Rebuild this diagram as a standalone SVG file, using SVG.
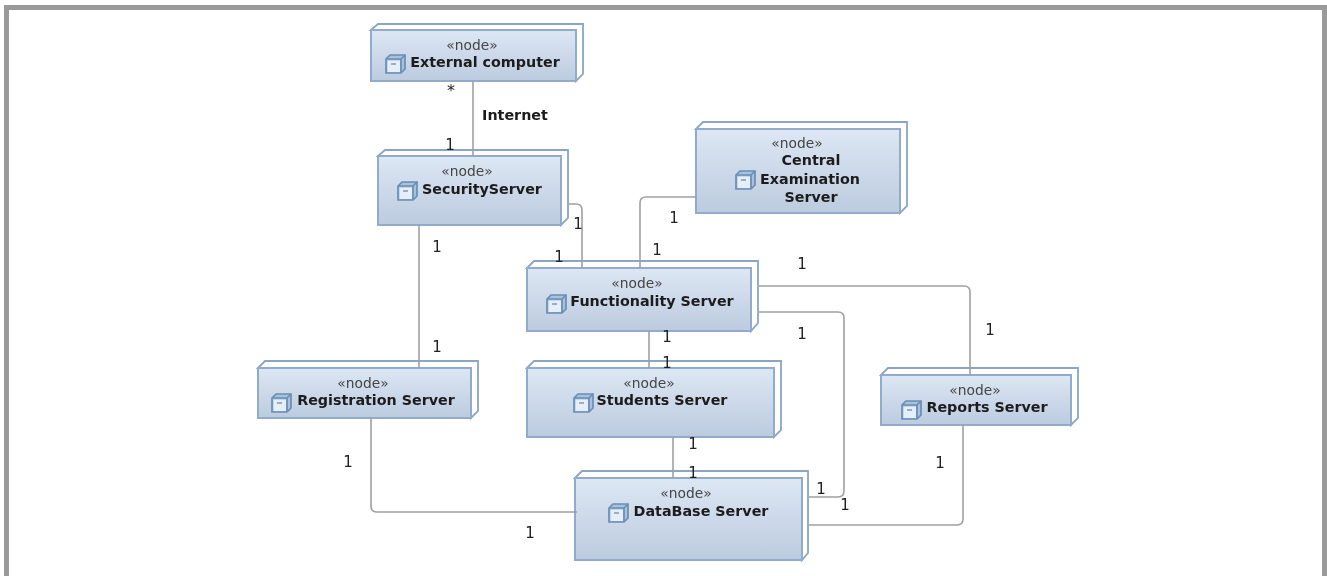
<svg xmlns="http://www.w3.org/2000/svg" width="1327" height="576" viewBox="0 0 1327 576">
<style>
.frame{fill:none;stroke:#9a9a9a;stroke-width:5}
.box{fill:url(#g);stroke:#92abcc;stroke-width:2}
.side{fill:#fff;stroke:#8aa5c8;stroke-width:1.8}
.st{font:13.8px "DejaVu Sans",sans-serif;fill:#444;text-anchor:middle;filter:url(#b)}
.nm{font:bold 14.3px "DejaVu Sans",sans-serif;fill:#1c1c1c;text-anchor:middle;filter:url(#b)}
.m{font:15px "DejaVu Sans",sans-serif;fill:#222;text-anchor:middle;filter:url(#b)}
.c{fill:none;stroke:#a0a0a0;stroke-width:1.6}
.ic{fill:#a9c1dc;stroke:#6a8db5;stroke-width:1.7}
</style>
<defs>
<filter id="b" x="-20%" y="-20%" width="140%" height="140%"><feGaussianBlur stdDeviation="0.3"/></filter>
<linearGradient id="g" x1="0" y1="0" x2="0" y2="1"><stop offset="0" stop-color="#dde7f4"/><stop offset="1" stop-color="#bccbdf"/></linearGradient>
<g id="icon"><path class="ic" d="M0 4L4 0H19V14L15 18H0Z"/><path class="ic" d="M0 4H15V18M15 4L19 0" fill="none"/><rect x="1.500" y="5.500" width="12.500" height="11.500" fill="#e6eef7"/><path d="M5 9H10" stroke="#6a8db5" stroke-width="1.3"/></g>
</defs>
<rect id="frame" class="frame" x="6.500" y="7.500" width="1318" height="575"/>
<g id="external-computer">
<path class="side" d="M371 30L378 24H583V74L576 81V30Z"/>
<rect class="box" x="371" y="30" width="205" height="51"/>
<text class="st" x="472" y="50">«node»</text>
<use href="#icon" x="386" y="55"/>
<text class="nm" x="485" y="67">External computer</text>
</g>
<g id="security-server">
<path class="side" d="M378 156L385 150H568V218L561 225V156Z"/>
<rect class="box" x="378" y="156" width="183" height="69"/>
<text class="st" x="467" y="176">«node»</text>
<use href="#icon" x="398" y="182"/>
<text class="nm" x="482" y="194">SecurityServer</text>
</g>
<g id="central-examination-server">
<path class="side" d="M696 129L703 122H907V206L900 213V129Z"/>
<rect class="box" x="696" y="129" width="204" height="84"/>
<text class="st" x="797" y="148">«node»</text>
<use href="#icon" x="736" y="171"/>
<text class="nm" x="811" y="165">Central</text>
<text class="nm" x="810" y="184">Examination</text>
<text class="nm" x="811" y="202">Server</text>
</g>
<g id="functionality-server">
<path class="side" d="M527 268L534 261H758V323L751 331V268Z"/>
<rect class="box" x="527" y="268" width="224" height="63"/>
<text class="st" x="637" y="288">«node»</text>
<use href="#icon" x="547" y="295"/>
<text class="nm" x="652" y="306">Functionality Server</text>
</g>
<g id="registration-server">
<path class="side" d="M258 368L265 361H478V411L471 418V368Z"/>
<rect class="box" x="258" y="368" width="213" height="50"/>
<text class="st" x="363" y="388">«node»</text>
<use href="#icon" x="272" y="394"/>
<text class="nm" x="376" y="405">Registration Server</text>
</g>
<g id="students-server">
<path class="side" d="M527 368L534 361H781V430L774 437V368Z"/>
<rect class="box" x="527" y="368" width="247" height="69"/>
<text class="st" x="649" y="388">«node»</text>
<use href="#icon" x="574" y="394"/>
<text class="nm" x="662" y="405">Students Server</text>
</g>
<g id="reports-server">
<path class="side" d="M881 375L888 368H1078V418L1071 425V375Z"/>
<rect class="box" x="881" y="375" width="190" height="50"/>
<text class="st" x="975" y="395">«node»</text>
<use href="#icon" x="902" y="401"/>
<text class="nm" x="987" y="412">Reports Server</text>
</g>
<g id="database-server">
<path class="side" d="M575 478L582 471H808V553L802 560V478Z"/>
<rect class="box" x="575" y="478" width="227" height="82"/>
<text class="st" x="686" y="498">«node»</text>
<use href="#icon" x="609" y="504"/>
<text class="nm" x="701" y="516">DataBase Server</text>
</g>
<g id="connectors">
<path class="c" d="M473 81V156"/>
<path class="c" d="M569 204H576Q582 204 582 210V268"/>
<path class="c" d="M419 225V368"/>
<path class="c" d="M696 197H646Q640 197 640 203V268"/>
<path class="c" d="M649 331V368"/>
<path class="c" d="M673 437V478"/>
<path class="c" d="M759 286H964Q970 286 970 292V375"/>
<path class="c" d="M759 312H838Q844 312 844 318V491Q844 497 838 497H809"/>
<path class="c" d="M371 418V506Q371 512 377 512H577"/>
<path class="c" d="M963 425V519Q963 525 957 525H809"/>
</g>
<g id="labels">
<text class="m" x="451" y="96" style="font-size:16px">*</text>
<text class="nm" x="515" y="120">Internet</text>
<text class="m" x="450" y="150">1</text>
<text class="m" x="578" y="229">1</text>
<text class="m" x="559" y="262">1</text>
<text class="m" x="674" y="223">1</text>
<text class="m" x="657" y="255">1</text>
<text class="m" x="437" y="252">1</text>
<text class="m" x="437" y="352">1</text>
<text class="m" x="667" y="342">1</text>
<text class="m" x="667" y="368">1</text>
<text class="m" x="802" y="269">1</text>
<text class="m" x="802" y="339">1</text>
<text class="m" x="990" y="335">1</text>
<text class="m" x="693" y="449">1</text>
<text class="m" x="693" y="478">1</text>
<text class="m" x="348" y="467">1</text>
<text class="m" x="530" y="538">1</text>
<text class="m" x="940" y="468">1</text>
<text class="m" x="821" y="494">1</text>
<text class="m" x="845" y="510">1</text>
</g>
</svg>
